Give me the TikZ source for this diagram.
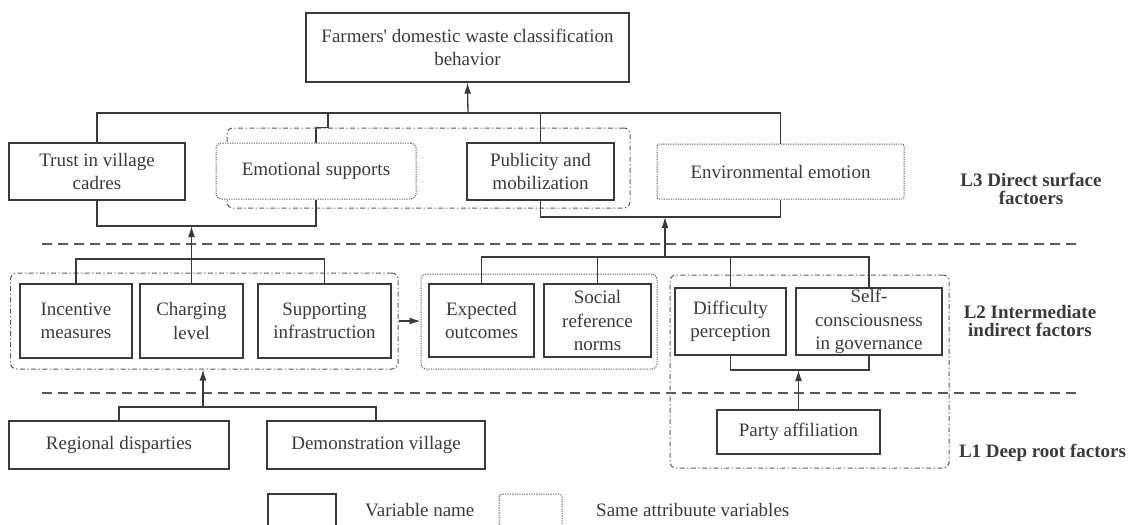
\documentclass[tikz,border=0pt]{standalone}
\usepackage{fontspec}
\setmainfont{Liberation Serif}
\usepackage{tikz}
\usetikzlibrary{calc,arrows.meta}
\tikzset{>={Latex[length=11pt,width=7pt]}}
\definecolor{myline}{HTML}{3A3A3A}
\definecolor{mygray}{HTML}{5A5A5A}

\tikzset{
	varbox/.style={draw=myline,line width=1.3pt,align=center,inner sep=0pt},
	samebox/.style={draw=mygray,line width=1pt,dash pattern=on 1.2pt off 1.2pt,rounded corners=5pt,align=center,inner sep=0pt},
	groupbox/.style={draw=mygray,line width=1pt,dash pattern=on 5pt off 2.5pt on 1.2pt off 2.5pt,rounded corners=6pt,inner sep=0pt},
	levelline/.style={draw=mygray,line width=2.2pt,dash pattern=on 10pt off 6pt},
	levellabel/.style={font=\fontsize{19}{18.5}\selectfont\bfseries,align=center},
	link/.style={draw=myline,line width=1.3pt},
}

\begin{document}
\begin{tikzpicture}[x=1pt,y=-1pt,font=\fontsize{19}{23.5}\selectfont,text=myline]
		\useasboundingbox (0,0) rectangle (1136,525);

		% groups and levels
		\node[groupbox,minimum width=403pt,minimum height=80pt] (grpA) at (428.5,168) {};
		\node[groupbox,minimum width=387.5pt,minimum height=96pt] (grpB) at (204.25,321) {};
		\node[samebox,minimum width=236pt,minimum height=95pt] (grpC) at (539,321.5) {};
		\node[groupbox,minimum width=279pt,minimum height=193pt] (grpD) at (809.5,371.5) {};
		\coordinate (lvl2a) at (42,244);
		\coordinate (lvl2b) at (1080,244);
		\coordinate (lvl1a) at (42,393);
		\coordinate (lvl1b) at (1080,393);
		\draw[levelline] (lvl2a) -- (lvl2b);
		\draw[levelline] (lvl1a) -- (lvl1b);

		% top
		\node[varbox,minimum width=323pt,minimum height=69pt] (top) at (467.5,47.5) {Farmers\textquotesingle\ domestic waste classification\\behavior};

		% L3
		\node[varbox,minimum width=176pt,minimum height=57pt] (trust) at (97,171.5) {Trust in village\\cadres};
		\node[samebox,fill=white,minimum width=200pt,minimum height=56pt] (emo) at (316,171) {Emotional supports};
		\node[varbox,minimum width=147pt,minimum height=57pt] (pub) at (540.5,171.5) {Publicity and\\mobilization};
		\node[samebox,rounded corners=2pt,minimum width=247pt,minimum height=55pt] (env) at (780.5,171.5) {Environmental emotion};
		\node[levellabel] (lab3) at (1031,189) {L3 Direct surface\\factoers};

		% L2
		\node[varbox,minimum width=112pt,minimum height=74pt] (inc) at (76,321) {Incentive\\measures};
		\node[varbox,minimum width=103pt,minimum height=74pt] (chg) at (191.5,321) {Charging\\level};
		\node[varbox,minimum width=133pt,minimum height=74pt] (sup) at (324.5,321) {Supporting\\infrastruction};
		\node[varbox,minimum width=105pt,minimum height=73pt] (exp) at (481.5,320.5) {Expected\\outcomes};
		\node[varbox,minimum width=107pt,minimum height=73pt] (soc) at (597.5,320.5) {Social\\reference\\norms};
		\node[varbox,minimum width=111pt,minimum height=67pt] (dif) at (730.5,321.5) {Difficulty\\perception};
		\node[varbox,minimum width=146pt,minimum height=67pt] (self) at (869,321.5) {Self-\\consciousness\\in governance};
		\node[levellabel] (lab2) at (1030,321) {L2 Intermediate\\indirect factors};

		% L1
		\node[varbox,minimum width=220pt,minimum height=48pt] (reg) at (119,445) {Regional disparties};
		\node[varbox,minimum width=218pt,minimum height=48pt] (dem) at (376,445) {Demonstration village};
		\node[varbox,minimum width=163pt,minimum height=44pt] (party) at (798.5,432) {Party affiliation};
		\node[levellabel] (lab1) at (1042.5,453) {L1 Deep root factors};

		% legend
		\node[varbox,minimum width=68pt,minimum height=36pt] (legA) at (302,512) {};
		\node[anchor=west,inner sep=0pt] (legAtext) at (365,510) {Variable name};
		\node[samebox,rounded corners=3pt,minimum width=63pt,minimum height=36pt] (legB) at (530.5,512) {};
		\node[anchor=west,inner sep=0pt] (legBtext) at (596,510) {Same attribuute variables};

		% links
		\coordinate (hub3) at (468,113);
		\coordinate (jog) at (328,113);
		\draw[link] (trust.north) |- (hub3) -| (env.north);
		\draw[link] (pub.north) -- (pub.north |- hub3);
		\draw[link] (emo.north) -- ++(0,-15) -| (jog);
		\draw[link,->] (hub3) -- (top.south);

		\coordinate (hub3a) at (191.5,226);
		\coordinate (hub2a) at (191.5,259);
		\draw[link] (trust.south) |- (hub3a) -| (emo.south);
		\draw[link] (inc.north) |- (hub2a) -| (sup.north);
		\draw[link,->] (chg.north) -- (hub3a);

		\coordinate (hub3b) at (665,217);
		\coordinate (hub2b) at (665,257);
		\draw[link] (pub.south) |- (hub3b) -| (env.south);
		\draw[link] (exp.north) |- (hub2b) -| (self.north);
		\draw[link] (soc.north) -- (soc.north |- hub2b);
		\draw[link] (dif.north) -- (dif.north |- hub2b);
		\draw[link,->] (hub2b) -- (hub3b);

		\draw[link,->] (grpB.east) -- (grpB.east -| grpC.west);

		\coordinate (hub1a) at (203,407);
		\draw[link] (reg.north) |- (hub1a) -| (dem.north);
		\draw[link,->] (hub1a) -- (hub1a |- grpB.south);

		\coordinate (hubP) at (798.5,370);
		\draw[link] (dif.south) |- (hubP) -| (self.south);
		\draw[link,->] (party.north) -- (hubP);
	\end{tikzpicture}
\end{document}
